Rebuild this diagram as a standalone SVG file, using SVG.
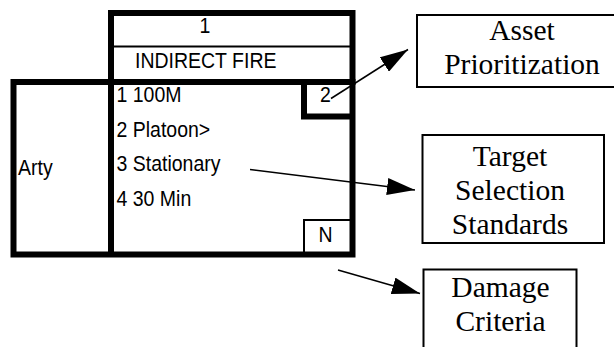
<svg xmlns="http://www.w3.org/2000/svg" width="614" height="347" viewBox="0 0 614 347">
<style>
.thick{fill:none;stroke:#000;stroke-width:6}
.thin{fill:none;stroke:#000;stroke-width:2}
.line{fill:none;stroke:#000;stroke-width:1.5}
.sans{font-family:"Liberation Sans",Arial,sans-serif;font-size:19.5px;fill:#000}
.serif{font-family:"Liberation Serif","Times New Roman",serif;font-size:29.5px;fill:#000;text-anchor:middle}
.box{fill:#fff;stroke:#000;stroke-width:2}
</style>
<defs>
<marker id="ah" viewBox="0 0 28 17" refX="28" refY="8.5" markerWidth="28" markerHeight="17" markerUnits="userSpaceOnUse" orient="auto">
<path d="M0,0 L28,8.5 L0,17 z" fill="#000"/>
</marker>
</defs>
<rect width="614" height="347" fill="#fff"/>
<g id="unit">
<rect class="thick" x="111" y="13" width="241.5" height="69"/>
<line x1="111" y1="46.5" x2="352" y2="46.5" stroke="#000" stroke-width="2"/>
<rect class="thick" x="13.5" y="82" width="339" height="172.5"/>
<line class="thick" x1="111" y1="82" x2="111" y2="254.5"/>
<text class="sans" x="205" y="33.5" text-anchor="middle" transform="matrix(1,0,0,1.1,0,-3.35)">1</text>
<text class="sans" x="135" y="68" transform="matrix(1,0,0,1.1,0,-6.8)">INDIRECT FIRE</text>
<text class="sans" x="18" y="175" transform="matrix(1,0,0,1.1,0,-17.5)">Arty</text>
<text class="sans" x="116.5" y="102.5" transform="matrix(1,0,0,1.1,0,-10.25)">1 100M</text>
<text class="sans" x="116.5" y="137.5" transform="matrix(1,0,0,1.1,0,-13.75)">2 Platoon&gt;</text>
<text class="sans" x="116.5" y="171" transform="matrix(1,0,0,1.1,0,-17.1)">3 Stationary</text>
<text class="sans" x="116.5" y="206" transform="matrix(1,0,0,1.1,0,-20.6)">4 30 Min</text>
</g>
<g id="box2">
<path class="thick" d="M304,82 V116.5 H352"/>
<text class="sans" x="325.5" y="102.5" text-anchor="middle" transform="matrix(1,0,0,1.1,0,-10.25)">2</text>
</g>
<g id="boxN">
<path class="thin" d="M304,254 V220 H350"/>
<text class="sans" x="325.5" y="242.5" text-anchor="middle" transform="matrix(1,0,0,1.1,0,-24.25)">N</text>
</g>
<g id="asset">
<rect class="box" x="417" y="15" width="200" height="72"/>
<text class="serif" x="522" y="39.5">Asset</text>
<text class="serif" x="522" y="73.5">Prioritization</text>
</g>
<g id="target">
<rect class="box" x="422.5" y="135" width="181.5" height="108"/>
<text class="serif" x="510" y="165.5">Target</text>
<text class="serif" x="510" y="199.5">Selection</text>
<text class="serif" x="510" y="233.5">Standards</text>
</g>
<g id="damage">
<rect class="box" x="423.5" y="269.5" width="153" height="90"/>
<text class="serif" x="500.5" y="297">Damage</text>
<text class="serif" x="500.5" y="331">Criteria</text>
</g>
<g id="connectors">
<line class="line" x1="331" y1="98.5" x2="408" y2="49.5" marker-end="url(#ah)"/>
<line class="line" x1="250" y1="169.5" x2="415" y2="190" marker-end="url(#ah)"/>
<line class="line" x1="338" y1="270" x2="420" y2="293.5" marker-end="url(#ah)"/>
</g>
</svg>
